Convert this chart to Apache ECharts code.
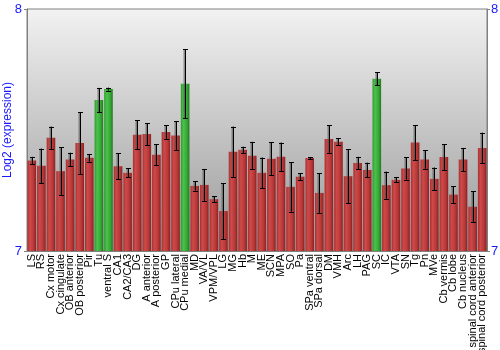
<!DOCTYPE html>
<html>
<head>
<meta charset="utf-8">
<script src="https://cdn.jsdelivr.net/npm/echarts@6/dist/echarts.min.js"></script>
<style>
  html, body { margin: 0; padding: 0; background: #ffffff; }
  #chart { width: 500px; height: 350px; }
</style>
</head>
<body>
<div id="chart"></div>
<script>
// Brain regions along the x axis
const regions = [
  'LS', 'RS', 'Cx motor', 'Cx cingulate', 'OB anterior', 'OB posterior', 'Pir', 'Tu',
  'ventral S', 'CA1', 'CA2/CA3', 'DG', 'A anterior', 'A posterior', 'GP', 'CPu lateral',
  'CPu medial', 'MD', 'VA/VL', 'VPM/VPL', 'LG', 'MG', 'Hb', 'M',
  'ME', 'SCN', 'MPA', 'SO', 'Pa', 'SPa ventral', 'SPa dorsal', 'DM',
  'VMH', 'Arc', 'LH', 'PAG', 'SC', 'IC', 'VTA', 'SN',
  'Tg', 'Pn', 'MVe', 'Cb vermis', 'Cb lobe', 'Cb nucleus', 'spinal cord anterior', 'spinal cord posterior'
];

// Mean log2 expression per region
const expression = [
  7.374, 7.352, 7.468, 7.330, 7.378, 7.446, 7.385, 7.624,
  7.669, 7.350, 7.323, 7.480, 7.483, 7.398, 7.492, 7.477,
  7.691, 7.269, 7.273, 7.214, 7.165, 7.410, 7.418, 7.394,
  7.323, 7.381, 7.389, 7.265, 7.307, 7.384, 7.240, 7.463,
  7.451, 7.309, 7.364, 7.335, 7.712, 7.272, 7.294, 7.341,
  7.448, 7.378, 7.298, 7.388, 7.233, 7.378, 7.183, 7.426
];

// Half-length of each error bar
const errors = [
  0.015, 0.071, 0.046, 0.098, 0.028, 0.127, 0.016, 0.050,
  0.006, 0.053, 0.018, 0.060, 0.046, 0.043, 0.028, 0.059,
  0.143, 0.019, 0.066, 0.012, 0.115, 0.104, 0.013, 0.057,
  0.063, 0.069, 0.059, 0.102, 0.015, 0.004, 0.082, 0.057,
  0.015, 0.112, 0.025, 0.030, 0.027, 0.056, 0.010, 0.046,
  0.072, 0.038, 0.047, 0.054, 0.034, 0.048, 0.063, 0.063
];

// Regions drawn in green
const highlighted = ['Tu', 'ventral S', 'CPu medial', 'SC'];

// Axis range and tick labels
const yMin = 7;
const yMax = 8;
const yTicks = [7, 8];

const G = echarts.graphic.LinearGradient;
const redFill = new G(0, 0, 1, 0, [
  { offset: 0, color: '#a83030' },
  { offset: 0.3, color: '#cf4a4a' },
  { offset: 0.7, color: '#b83838' },
  { offset: 1, color: '#8a2222' }
]);
const greenFill = new G(0, 0, 1, 0, [
  { offset: 0, color: '#2f9a2f' },
  { offset: 0.3, color: '#4cc24c' },
  { offset: 0.7, color: '#36a836' },
  { offset: 1, color: '#217a21' }
]);

const barData = expression.map((v, i) => ({
  value: v,
  itemStyle: { color: highlighted.includes(regions[i]) ? greenFill : redFill }
}));

const errorData = expression.map((v, i) => [i, v - errors[i], v + errors[i]]);

const chart = echarts.init(document.getElementById('chart'), null, { renderer: 'canvas' });

const yLabelStyle = {
  color: '#1a1aff',
  fontSize: 13,
  fontFamily: 'Liberation Sans, Arial, sans-serif',
  formatter: v => (yTicks.includes(v) ? String(v) : '')
};

chart.setOption({
  animation: false,
  backgroundColor: '#ffffff',
  grid: {
    left: 27,
    right: 13,
    top: 9,
    bottom: 99,
    containLabel: false,
    outerBoundsMode: 'none',
    show: true,
    borderColor: '#808080',
    borderWidth: 1,
    backgroundColor: new G(0, 0, 0, 1, [
      { offset: 0, color: '#f2f2f2' },
      { offset: 1, color: '#989898' }
    ])
  },
  xAxis: {
    type: 'category',
    data: regions,
    axisLine: { show: true, lineStyle: { color: '#808080' } },
    axisTick: { show: false },
    axisLabel: {
      interval: 0,
      rotate: 90,
      margin: 3,
      color: '#000000',
      fontSize: 11,
      fontFamily: 'Liberation Sans, Arial, sans-serif'
    },
    splitLine: { show: false }
  },
  yAxis: [
    {
      type: 'value',
      min: yMin,
      max: yMax,
      interval: 1,
      position: 'left',
      name: 'Log2 (expression)',
      nameLocation: 'middle',
      nameGap: 13,
      nameRotate: 90,
      nameMoveOverlap: false,
      nameTextStyle: {
        color: '#1a1aff',
        fontSize: 12,
        fontFamily: 'Liberation Sans, Arial, sans-serif'
      },
      axisLine: { show: true, lineStyle: { color: '#808080' } },
      axisTick: { show: true, length: 3, lineStyle: { color: '#808080' } },
      axisLabel: Object.assign({ margin: 5 }, yLabelStyle),
      splitLine: { show: false }
    },
    {
      type: 'value',
      min: yMin,
      max: yMax,
      interval: 1,
      position: 'right',
      axisLine: { show: true, lineStyle: { color: '#808080' } },
      axisTick: { show: true, length: 3, lineStyle: { color: '#808080' } },
      axisLabel: Object.assign({ margin: 4 }, yLabelStyle),
      splitLine: { show: false }
    }
  ],
  series: [
    {
      type: 'bar',
      data: barData,
      barCategoryGap: '10%',
      yAxisIndex: 0
    },
    {
      type: 'custom',
      yAxisIndex: 0,
      data: errorData,
      z: 10,
      renderItem: function (params, api) {
        const x = api.value(0);
        const lo = api.coord([x, api.value(1)]);
        const hi = api.coord([x, api.value(2)]);
        const cx = Math.round(lo[0]) + 0.5;
        const cap = 2.5;
        const shadow = { stroke: 'rgba(70,70,70,0.55)', lineWidth: 2 };
        const ink = { stroke: '#000000', lineWidth: 1 };
        return {
          type: 'group',
          children: [
            { type: 'line', shape: { x1: cx - 1, y1: hi[1], x2: cx - 1, y2: lo[1] }, style: shadow },
            { type: 'line', shape: { x1: cx, y1: hi[1], x2: cx, y2: lo[1] }, style: ink },
            { type: 'line', shape: { x1: cx - cap, y1: Math.round(hi[1]) + 0.5, x2: cx + cap, y2: Math.round(hi[1]) + 0.5 }, style: ink },
            { type: 'line', shape: { x1: cx - cap, y1: Math.round(lo[1]) + 0.5, x2: cx + cap, y2: Math.round(lo[1]) + 0.5 }, style: ink }
          ]
        };
      }
    }
  ]
});
</script>
</body>
</html>
